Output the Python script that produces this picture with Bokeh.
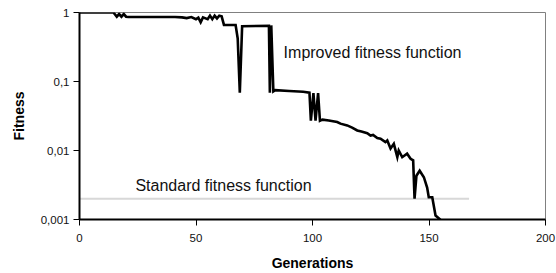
from bokeh.plotting import figure
from bokeh.models import Range1d, FixedTicker, CustomJSTickFormatter
from bokeh.core.properties import value
from bokeh.embed import file_html
from bokeh.resources import INLINE

# Improved fitness function curve (generation, fitness)
generations = [0, 14.6, 15, 16, 17, 18, 19, 20, 21, 41, 44, 46, 48, 50, 51, 52, 53, 55, 56, 57,
               58, 59, 60, 61, 62, 67, 67.9, 68.8, 69.8, 81.3, 81.7, 82.3, 83.2, 84, 90, 96,
               98.7, 99.3, 100.4, 101.3, 102.4, 103.2, 104.3, 107, 110.6, 112, 114.9, 117,
               119.2, 121, 123.5, 124.9, 126, 127.8, 129.2, 131.3, 132.1, 133.5, 134.9, 136.4,
               137, 138.5, 140.6, 142.1, 143.2, 143.8, 144.6, 146, 147.8, 149.2, 149.9, 151.4,
               152.8, 153.8, 154.9]
fitness = [1.0, 1.0, 0.96, 0.87, 0.95, 0.87, 0.95, 0.87, 0.86, 0.86, 0.85, 0.83, 0.86, 0.80,
           0.84, 0.72, 0.85, 0.80, 0.90, 0.80, 0.90, 0.82, 0.90, 0.88, 0.66, 0.66, 0.42, 0.069,
           0.633, 0.64, 0.069, 0.65, 0.072, 0.075, 0.073, 0.071, 0.069, 0.027, 0.068, 0.027,
           0.068, 0.027, 0.028, 0.0272, 0.0259, 0.0245, 0.0231, 0.0215, 0.0195, 0.0188,
           0.0178, 0.0165, 0.0168, 0.0152, 0.0148, 0.0132, 0.014, 0.0107, 0.0125, 0.0080,
           0.010, 0.0080, 0.0090, 0.0076, 0.0072, 0.0020, 0.0043, 0.0051, 0.0041, 0.0029,
           0.0021, 0.0021, 0.00114, 0.00107, 0.00099]

# Standard fitness function (constant)
standard_gens = [0, 167.4]
standard_fitness = [0.002, 0.002]

x_ticks = [0, 50, 100, 150, 200]
y_ticks = [0.001, 0.01, 0.1, 1]

label_texts = ["Improved fitness function", "Standard fitness function"]
label_x = [87.6, 24]
label_y = [0.26, 0.0031]

FONT = "Liberation Sans"

p = figure(width=556, height=273, y_axis_type="log",
           x_range=Range1d(0, 200), y_range=Range1d(0.001, 1),
           output_backend="svg", toolbar_location=None,
           min_border_left=79, min_border_right=11, min_border_top=12, min_border_bottom=54)

p.background_fill_color = "white"
p.border_fill_color = "white"
p.outline_line_color = "#808080"
p.outline_line_width = 1
p.xgrid.visible = False
p.ygrid.visible = False

p.line(standard_gens, standard_fitness, line_color="#b0b0b0", line_width=2, line_dash="1 1")
p.line(generations, fitness, line_color="black", line_width=2.6, line_join="miter")

p.text(x=label_x, y=label_y, text=label_texts, text_font=value(FONT),
       text_font_size="16px", text_baseline="middle", text_align="left", text_color="#111111")

for ax in (p.xaxis[0], p.yaxis[0]):
    ax.axis_line_color = "black"
    ax.axis_line_width = 2
    ax.major_tick_line_color = "black"
    ax.major_tick_line_width = 1
    ax.major_tick_out = 6
    ax.major_tick_in = 0
    ax.minor_tick_line_color = None
    ax.major_label_text_font = FONT
    ax.major_label_text_font_size = "11.5px"
    ax.major_label_text_color = "#111111"
    ax.axis_label_text_font = FONT
    ax.axis_label_text_font_size = "14px"
    ax.axis_label_text_font_style = "bold"
    ax.axis_label_text_color = "black"

p.xaxis.ticker = FixedTicker(ticks=x_ticks)
p.yaxis.ticker = FixedTicker(ticks=y_ticks)
p.yaxis.formatter = CustomJSTickFormatter(code="return tick.toString().replace('.', ',');")
p.xaxis.axis_label = "Generations"
p.yaxis.axis_label = "Fitness"
p.xaxis.major_label_standoff = 8
p.yaxis.major_label_standoff = 4
p.xaxis.axis_label_standoff = 10
p.yaxis.axis_label_standoff = 11

open("out.html", "w").write(file_html(p, INLINE))
